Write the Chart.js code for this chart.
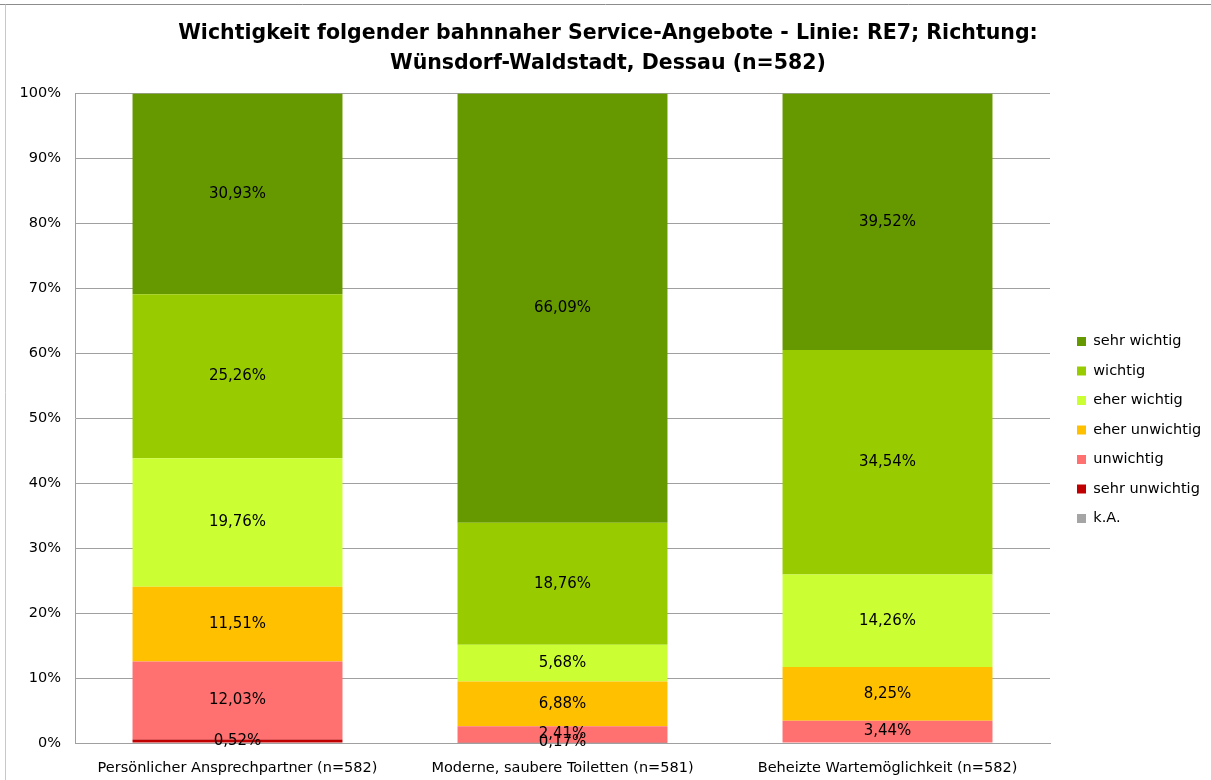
<!DOCTYPE html>
<html>
<head>
<meta charset="utf-8">
<script src="https://cdn.jsdelivr.net/npm/chart.js@4"></script>
<style>
  html, body { margin: 0; padding: 0; background: #fff; }
  #wrap { width: 1211px; height: 780px; position: relative; }
</style>
</head>
<body>
<div id="wrap"><canvas id="chart"></canvas></div>
<script>
const categories = [
    'Persönlicher Ansprechpartner (n=582)',
    'Moderne, saubere Toiletten (n=581)',
    'Beheizte Wartemöglichkeit (n=582)'
];
// stacked from bottom to top
const kA = [0, 0, 0];
const sehrUnwichtig = [0.52, 0.17, 0];
const unwichtig = [12.03, 2.41, 3.44];
const eherUnwichtig = [11.51, 6.88, 8.25];
const eherWichtig = [19.76, 5.68, 14.26];
const wichtig = [25.26, 18.76, 34.54];
const sehrWichtig = [30.93, 66.09, 39.52];
const yTicks = [0, 10, 20, 30, 40, 50, 60, 70, 80, 90, 100];

const font = "'DejaVu Sans', sans-serif";

const series = [
    {label: 'k.A.', data: kA, color: '#A5A5A5'},
    {label: 'sehr unwichtig', data: sehrUnwichtig, color: '#C00000'},
    {label: 'unwichtig', data: unwichtig, color: '#FF7171'},
    {label: 'eher unwichtig', data: eherUnwichtig, color: '#FFC000'},
    {label: 'eher wichtig', data: eherWichtig, color: '#CCFF33'},
    {label: 'wichtig', data: wichtig, color: '#99CC00'},
    {label: 'sehr wichtig', data: sehrWichtig, color: '#669900'}
];

// frame lines round the picture
const framePlugin = {
    id: 'frame',
    beforeDraw(chart) {
        const ctx = chart.ctx;
        ctx.save();
        ctx.lineWidth = 1;
        ctx.strokeStyle = '#8c8c8c';
        ctx.beginPath();
        ctx.moveTo(0, 4.5);
        ctx.lineTo(chart.width, 4.5);
        ctx.stroke();
        ctx.strokeStyle = '#c8c8c8';
        ctx.beginPath();
        ctx.moveTo(5.5, 4.5);
        ctx.lineTo(5.5, chart.height);
        ctx.stroke();
        ctx.restore();
    }
};

// value labels in the middle of each segment
const labelPlugin = {
    id: 'segLabels',
    afterDatasetsDraw(chart) {
        const ctx = chart.ctx;
        ctx.save();
        ctx.font = '15px ' + font;
        ctx.fillStyle = '#000';
        ctx.textAlign = 'center';
        ctx.textBaseline = 'middle';
        chart.data.datasets.forEach((ds, i) => {
            const meta = chart.getDatasetMeta(i);
            meta.data.forEach((bar, j) => {
                const v = ds.data[j];
                if (!v) return;
                const y = (bar.y + bar.base) / 2;
                ctx.fillText(v.toFixed(2).replace('.', ',') + '%', bar.x, y);
            });
        });
        ctx.restore();
    }
};

// fixed legend width, legend moved to where the reference has it
const legendPlace = {
    id: 'legendPlace',
    beforeLayout(chart) {
        const lg = chart.legend;
        if (lg && !lg._fitWrapped) {
            const fit = lg.fit;
            lg.fit = function () {
                fit.call(this);
                this.width = 161;
            };
            lg._fitWrapped = true;
        }
    },
    afterLayout(chart) {
        const lg = chart.legend;
        const dy = 430 - (lg.top + lg.bottom) / 2;
        lg.top += dy;
        lg.bottom += dy;
        lg.left += 12;
        lg.right += 12;
    }
};

new Chart(document.getElementById('chart'), {
    type: 'bar',
    data: {
        labels: categories,
        datasets: series.map(s => ({
            label: s.label,
            data: s.data,
            backgroundColor: s.color,
            borderWidth: 0,
            categoryPercentage: 1,
            barPercentage: 0.646
        }))
    },
    options: {
        responsive: true,
        maintainAspectRatio: false,
        animation: false,
        layout: {padding: {top: 4, left: 5, right: 0, bottom: 0}},
        plugins: {
            title: {
                display: true,
                text: ['Wichtigkeit folgender bahnnaher Service-Angebote - Linie: RE7; Richtung:',
                       'Wünsdorf-Waldstadt, Dessau (n=582)'],
                color: '#000',
                font: {family: font, size: 20.5, weight: 'bold', lineHeight: 1.45},
                padding: {top: 15, bottom: 15}
            },
            legend: {
                position: 'right',
                reverse: true,
                labels: {
                    color: '#000',
                    font: {family: font, size: 14.5},
                    boxWidth: 9,
                    boxHeight: 9,
                    padding: 15
                }
            },
            tooltip: {enabled: false}
        },
        scales: {
            x: {
                stacked: true,
                grid: {display: false},
                border: {color: '#a0a0a0'},
                ticks: {color: '#000', font: {family: font, size: 14.5}, padding: 9, maxRotation: 0},
                afterFit: scale => { scale.height = 37; }
            },
            y: {
                stacked: true,
                min: 0,
                max: 100,
                afterBuildTicks: scale => { scale.ticks = yTicks.map(v => ({value: v})); },
                grid: {color: '#a0a0a0', drawTicks: false},
                border: {color: '#a0a0a0'},
                ticks: {
                    color: '#000',
                    font: {family: font, size: 14.5},
                    padding: 14,
                    callback: v => v + '%'
                },
                afterFit: scale => { scale.width = 70; }
            }
        }
    },
    plugins: [framePlugin, labelPlugin, legendPlace]
});
</script>
</body>
</html>
